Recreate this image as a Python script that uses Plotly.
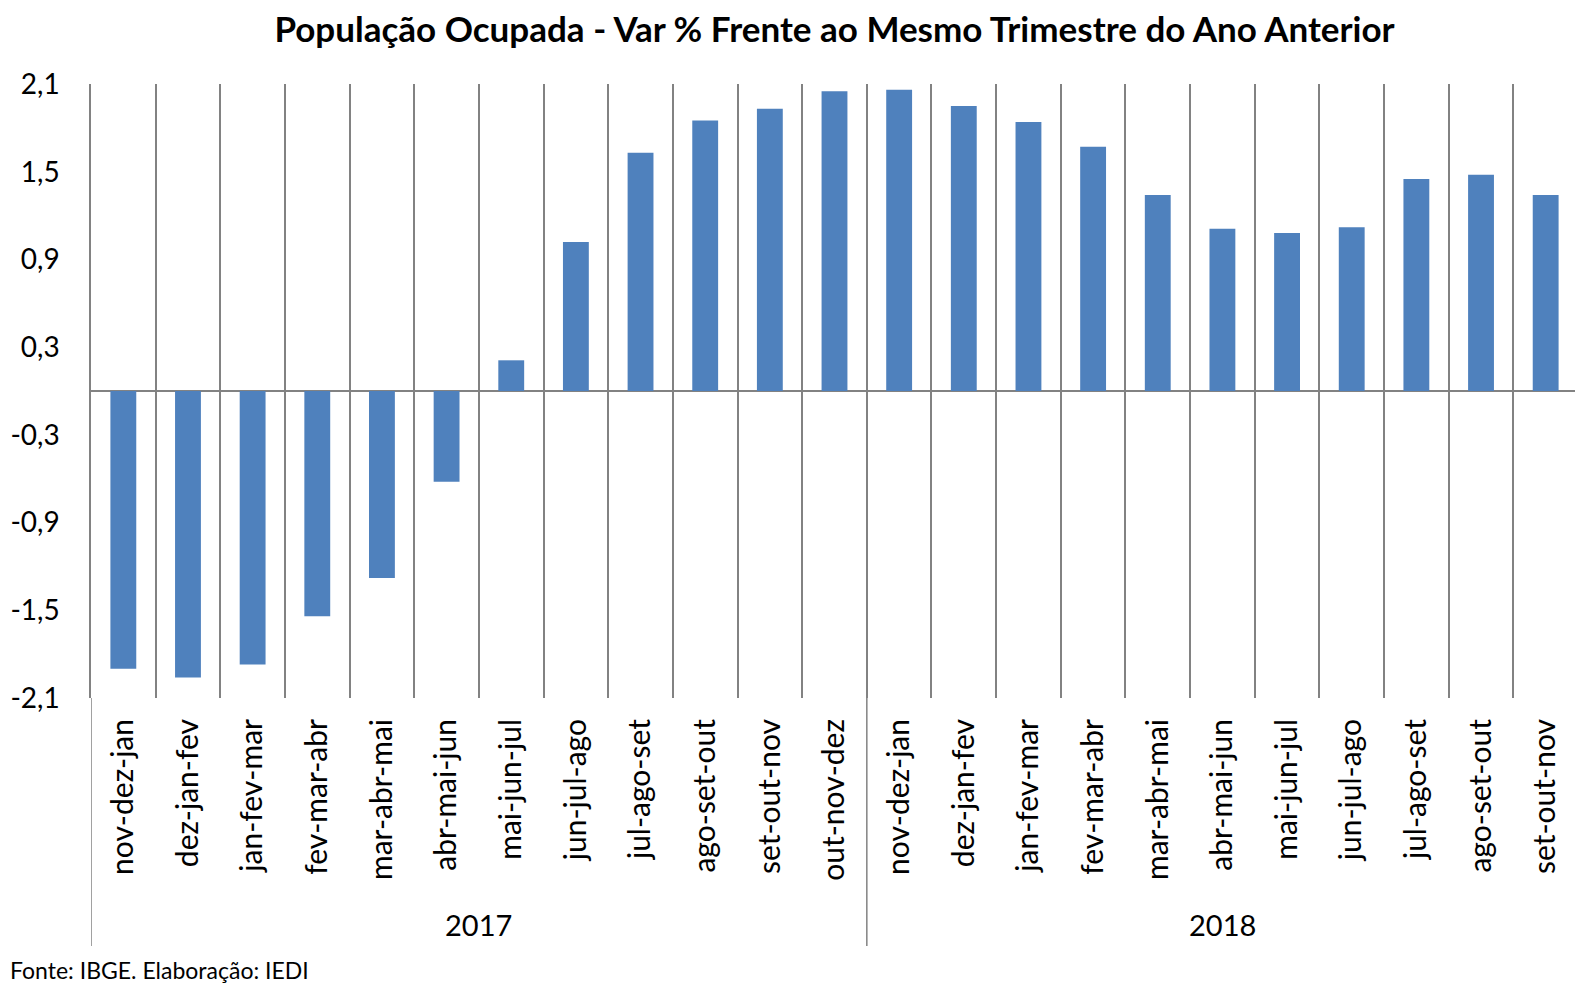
import plotly.graph_objects as go

months = ["nov-dez-jan", "dez-jan-fev", "jan-fev-mar", "fev-mar-abr", "mar-abr-mai",
          "abr-mai-jun", "mai-jun-jul", "jun-jul-ago", "jul-ago-set", "ago-set-out",
          "set-out-nov", "out-nov-dez",
          "nov-dez-jan", "dez-jan-fev", "jan-fev-mar", "fev-mar-abr", "mar-abr-mai",
          "abr-mai-jun", "mai-jun-jul", "jun-jul-ago", "jul-ago-set", "ago-set-out",
          "set-out-nov"]
years = ["2017"] * 12 + ["2018"] * 11
values = [-1.90, -1.96, -1.87, -1.54, -1.28, -0.62, 0.21, 1.02, 1.63, 1.85, 1.93, 2.05,
          2.06, 1.95, 1.84, 1.67, 1.34, 1.11, 1.08, 1.12, 1.45, 1.48, 1.34]
y_ticks = [-2.1, -1.5, -0.9, -0.3, 0.3, 0.9, 1.5, 2.1]

title = "População Ocupada - Var % Frente ao Mesmo Trimestre do Ano Anterior"
footer = "Fonte: IBGE. Elaboração: IEDI"

FONT = "Lato"
GRID = "#828282"
OFF = 8  # page body margin offset
W, H = 1583 - OFF, 987 - OFF
ML, MR, MT, MB = 91 - OFF, 13 - OFF, 84 - OFF, 297 - OFF
plot_h = H - MT - MB
plot_bottom = MT + plot_h  # in figure pixels

n = len(values)
xs = list(range(n))

fig = go.Figure()
fig.add_trace(go.Bar(x=xs, y=values, width=0.40, marker=dict(color="#4F81BD", line=dict(width=0)),
                     showlegend=False, hoverinfo="y"))
# invisible trace for second axis (category labels)
fig.add_trace(go.Scatter(x=xs, y=[0] * n, xaxis="x2", mode="markers",
                         marker=dict(opacity=0), showlegend=False, hoverinfo="skip"))

boundaries = [i - 0.5 for i in range(n + 1)]

fig.update_layout(
    width=W, height=H,
    margin=dict(l=ML, r=MR, t=MT, b=MB, autoexpand=False),
    plot_bgcolor="white", paper_bgcolor="white",
    separators=", ",
    font=dict(family=FONT, color="black"),
    title=dict(text="<b>" + title + "</b>", x=(ML + (W - ML - MR) / 2) / W, xanchor="center",
               xref="container", yref="container",
               y=1 - (30 - OFF) / H, yanchor="middle", font=dict(size=35, family=FONT, color="black")),
    xaxis=dict(range=[-0.5, n - 0.5], tickvals=boundaries, ticktext=[""] * len(boundaries),
               showgrid=True, gridcolor=GRID, gridwidth=1.5, showline=False, zeroline=False,
               ticks="", fixedrange=True, automargin=False),
    xaxis2=dict(range=[-0.5, n - 0.5], overlaying="x", side="bottom", anchor="y",
                tickvals=xs, ticktext=months, tickangle=-90, showgrid=False, zeroline=False,
                showline=False, ticks="", ticklabelstandoff=14, automargin=False,
                tickfont=dict(size=30, family=FONT, color="black")),
    yaxis=dict(range=[-2.1, 2.1], tickvals=y_ticks, ticktext=[f"{v:.1f}".replace(".", ",") for v in y_ticks],
               showgrid=False, zeroline=True, zerolinecolor=GRID, zerolinewidth=2,
               showline=True, linecolor=GRID, linewidth=1.5, ticks="", automargin=False,
               ticklabelstandoff=24, tickfont=dict(size=28, family=FONT, color="black")),
)

# group separators and year labels (multi-level category axis)
groups = []
for i, yv in enumerate(years):
    if not groups or groups[-1][0] != yv:
        groups.append([yv, i, i])
    else:
        groups[-1][2] = i
sep_bottom = -((946 - OFF) - plot_bottom) / plot_h
seps = [groups[0][1] - 0.5] + [g[2] + 0.5 for g in groups]
for s in seps:
    fig.add_shape(type="line", xref="x", yref="paper", x0=s, x1=s, y0=0, y1=sep_bottom,
                  line=dict(color=GRID, width=1.5))
for yv, a, b in groups:
    fig.add_annotation(x=(a + b) / 2, xref="x", y=-((924 - OFF) - plot_bottom) / plot_h, yref="paper",
                       text=yv, showarrow=False, xanchor="center", yanchor="middle",
                       font=dict(size=29, family=FONT, color="black"))

fig.add_annotation(x=-ML / (W - ML - MR), xref="paper", y=-((970 - OFF) - plot_bottom) / plot_h,
                   yref="paper", text=footer, showarrow=False, xanchor="left", yanchor="middle",
                   font=dict(size=23, family=FONT, color="black"))

fig.write_html("out.html")
